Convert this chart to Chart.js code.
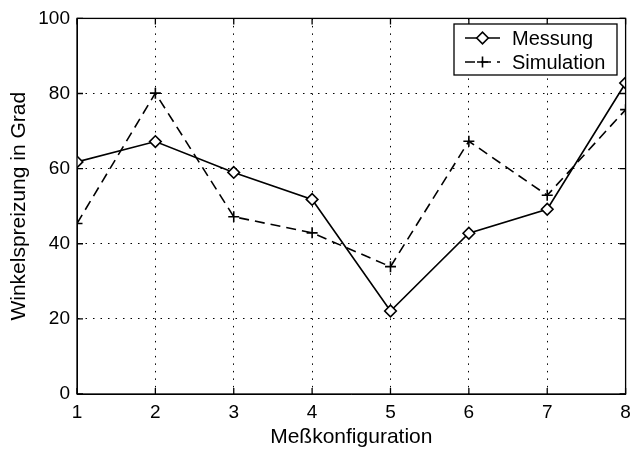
<!DOCTYPE html>
<html><head><meta charset="utf-8">
<script src="https://cdn.jsdelivr.net/npm/chart.js@4/dist/chart.umd.min.js"></script>
<style>html,body{margin:0;padding:0;background:#fff;}#wrap{width:633px;height:453px;}</style>
</head><body><div id="wrap"><canvas id="c" width="633" height="453"></canvas></div>
<script>
const configurations = [1, 2, 3, 4, 5, 6, 7, 8];
const messung = [61.8, 67.2, 59.0, 51.8, 22.1, 42.8, 49.2, 82.8];
const simulation = [45.4, 80.1, 47.2, 42.9, 33.9, 67.3, 52.9, 75.7];
const seriesNames = ['Messung', 'Simulation'];
const xTitle = 'Meßkonfiguration';
const yTitle = 'Winkelspreizung in Grad';

const FONT = "'Liberation Sans', Arial, Helvetica, sans-serif";
const FS = 19;       // tick labels
const FS_LEG = 20;   // legend
const FS_TITLE = 21; // axis titles

function pts(vals) { return configurations.map((c, i) => ({x: c, y: vals[i]})); }

function drawMarker(ctx, style, x, y, r) {
  ctx.beginPath();
  if (style === 'rectRot') {
    ctx.moveTo(x - r, y); ctx.lineTo(x, y - r); ctx.lineTo(x + r, y); ctx.lineTo(x, y + r); ctx.closePath();
    ctx.fillStyle = '#fff'; ctx.fill(); ctx.stroke();
  } else {
    ctx.moveTo(x - r, y); ctx.lineTo(x + r, y); ctx.moveTo(x, y - r); ctx.lineTo(x, y + r); ctx.stroke();
  }
}

const framePlugin = {
  id: 'frame',
  afterDraw(chart) {
    const ctx = chart.ctx, a = chart.chartArea;
    const xs = chart.scales.x, ys = chart.scales.y;
    ctx.save();
    ctx.strokeStyle = '#000'; ctx.lineWidth = 1.3; ctx.setLineDash([]);
    ctx.strokeRect(a.left, a.top, a.right - a.left, a.bottom - a.top);
    const tl = 6;
    ctx.beginPath();
    xs.ticks.forEach(t => {
      const px = xs.getPixelForValue(t.value);
      ctx.moveTo(px, a.bottom); ctx.lineTo(px, a.bottom - tl);
      ctx.moveTo(px, a.top); ctx.lineTo(px, a.top + tl);
    });
    ys.ticks.forEach(t => {
      const py = ys.getPixelForValue(t.value);
      ctx.moveTo(a.left, py); ctx.lineTo(a.left + tl, py);
      ctx.moveTo(a.right, py); ctx.lineTo(a.right - tl, py);
    });
    ctx.stroke();
    // legend
    const bx = 454, by = 24, bw = 163, bh = 51;
    ctx.fillStyle = '#fff'; ctx.fillRect(bx, by, bw, bh);
    ctx.lineWidth = 1.3; ctx.strokeRect(bx, by, bw, bh);
    chart.data.datasets.forEach((ds, i) => {
      const cy = by + 14 + i * 24;
      ctx.strokeStyle = '#000'; ctx.lineWidth = ds.borderWidth;
      ctx.setLineDash(ds.borderDash || []);
      ctx.beginPath(); ctx.moveTo(465, cy); ctx.lineTo(500, cy); ctx.stroke();
      ctx.setLineDash([]);
      ctx.lineWidth = ds.pointBorderWidth;
      drawMarker(ctx, ds.pointStyle, 482.5, cy, ds.pointRadius);
      ctx.fillStyle = '#000'; ctx.font = FS_LEG + 'px ' + FONT;
      ctx.textAlign = 'left'; ctx.textBaseline = 'middle';
      ctx.fillText(ds.label, 512, cy + 1);
    });
    ctx.restore();
  }
};

new Chart(document.getElementById('c'), {
  type: 'line',
  data: {
    datasets: [
      {label: seriesNames[0], data: pts(messung), borderColor: '#000', borderWidth: 1.6,
       pointStyle: 'rectRot', pointRadius: 5.8, pointBorderWidth: 1.6, pointBorderColor: '#000',
       pointBackgroundColor: '#fff', tension: 0, fill: false},
      {label: seriesNames[1], data: pts(simulation), borderColor: '#000', borderWidth: 1.6,
       borderDash: [10, 6], pointStyle: 'cross', pointRadius: 5.5, pointBorderWidth: 1.6,
       pointBorderColor: '#000', tension: 0, fill: false}
    ]
  },
  options: {
    responsive: false, animation: false, devicePixelRatio: 1,
    layout: {padding: {top: 18, right: 0, left: 0, bottom: 0}},
    plugins: {legend: {display: false}, tooltip: {enabled: false}},
    scales: {
      x: {type: 'linear', min: 1, max: 8,
        ticks: {stepSize: 1, color: '#000', font: {family: FONT, size: FS}, padding: 7, maxRotation: 0},
        grid: {color: '#000', lineWidth: 1, drawTicks: false},
        border: {display: true, color: '#000', width: 1, dash: [1.5, 6]},
        title: {display: true, text: xTitle, color: '#000', font: {family: FONT, size: FS_TITLE}, padding: {top: 0, bottom: 3}},
        afterFit(s) { s.height = 59; s.paddingRight = 0; s.paddingLeft = 0; }
      },
      y: {min: 0, max: 100,
        ticks: {stepSize: 20, color: '#000', font: {family: FONT, size: FS}, padding: 7},
        grid: {color: '#000', lineWidth: 1, drawTicks: false},
        border: {display: true, color: '#000', width: 1, dash: [1.5, 6]},
        title: {display: true, text: yTitle, color: '#000', font: {family: FONT, size: FS_TITLE}, padding: {top: 7, bottom: 0}},
        afterFit(s) { s.width = 77; }
      }
    }
  },
  plugins: [framePlugin]
});
</script></body></html>
